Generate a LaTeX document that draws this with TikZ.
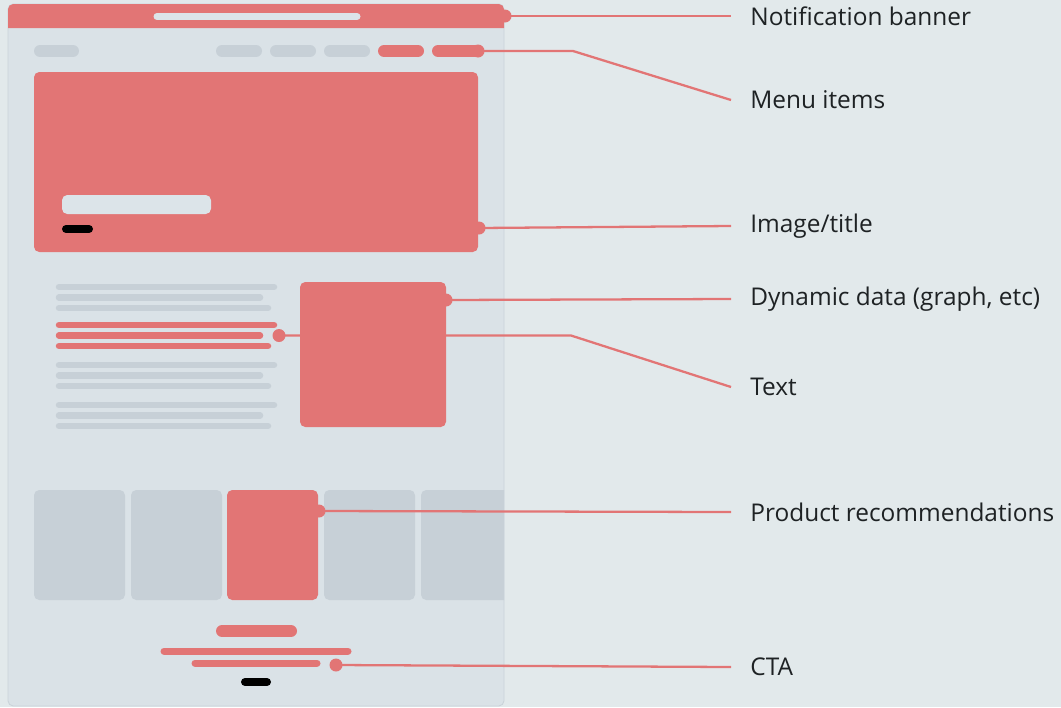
\documentclass[tikz,border=0pt]{standalone}
\usepackage{fontspec}
\setmainfont{Open Sans}
\definecolor{backdrop}{HTML}{E2E9EB}
\definecolor{pagefill}{HTML}{DAE2E7}
\definecolor{pageedge}{HTML}{CAD3D9}
\definecolor{wfgray}{HTML}{C7D0D7}
\definecolor{wfred}{HTML}{E27575}
\definecolor{wfwhite}{HTML}{DCE4E9}
\definecolor{labelink}{HTML}{1E2224}

\begin{document}
\begin{tikzpicture}[x=0.02cm,y=-0.02cm,
    pill/.style={line width=0.24cm,line cap=round},
    textline/.style={line width=0.13cm,line cap=round,wfgray},
    card/.style={rounded corners=3pt},
    dot/.style={circle,fill=wfred,inner sep=0pt,minimum size=0.26cm},
    callout/.style={draw=wfred,line width=1.3pt},
    label/.style={anchor=west,inner xsep=0.38cm,inner ysep=0pt,text=labelink,
        font={\fontsize{13.9pt}{16pt}\selectfont}}]
\fill[backdrop](0,0) rectangle (1061,707);
\useasboundingbox (0,0) rectangle (1061,707);

% page
\filldraw[fill=pagefill,draw=pageedge,line width=0.5pt,rounded corners=3pt](8,4) rectangle (504,706);
\fill[wfred](8,28) [rounded corners=3pt]-- (8,4) -- (504,4) [sharp corners]-- (504,28) -- cycle;
\draw[line width=0.14cm,line cap=round,wfwhite](157,16.5)--(357,16.5);

% menu
\draw[pill,wfgray](40,51)--(73,51);
\draw[pill,wfgray](222,51)--(256,51);
\draw[pill,wfgray](276,51)--(310,51);
\draw[pill,wfgray](330,51)--(364,51);
\draw[pill,wfred](384,51)--(418,51);
\draw[pill,wfred](438,51)--(476,51);

% hero
\fill[wfred,card](34,72) rectangle (478,252);
\fill[wfwhite,rounded corners=3pt](62,195) rectangle (211,214);
\draw[line width=0.16cm,line cap=round,black](66,229)--(89,229);

% text column
\draw[textline](59,287)--(274,287);
\draw[textline](59,297.5)--(260,297.5);
\draw[textline](59,308)--(268,308);
\draw[textline,wfred](59,325)--(274,325);
\draw[textline,wfred](59,335.5)--(260,335.5);
\draw[textline,wfred](59,346)--(268,346);
\draw[textline](59,365)--(274,365);
\draw[textline](59,375.5)--(260,375.5);
\draw[textline](59,386)--(268,386);
\draw[textline](59,405)--(274,405);
\draw[textline](59,415.5)--(260,415.5);
\draw[textline](59,426)--(268,426);

% product cards
\fill[wfgray,card](34,490) rectangle (125,600);
\fill[wfgray,card](131,490) rectangle (222,600);
\fill[wfgray,card](324,490) rectangle (415,600);
\fill[wfgray](421,490) [rounded corners=3pt]-- (421,600) [sharp corners]-- (504,600) -- (504,490) [rounded corners=3pt]-- cycle;

% CTA
\draw[pill,wfred](222,631)--(291,631);
\draw[line width=0.14cm,line cap=round,wfred](164,651)--(348,651);
\draw[line width=0.14cm,line cap=round,wfred](195,663)--(317,663);
\draw[line width=0.16cm,line cap=round,black](245,682)--(267,682);

% labels
\node[label](banner) at (731,16){Notification banner};
\node[label](menu) at (731,100){Menu items};
\node[label](hero) at (731,226){Image/title};
\node[label](dyndata) at (731,299){Dynamic data (graph, etc)};
\node[label](bodytext) at (731,387){Text};
\node[label](products) at (731,512){Product recommendations};
\node[label](cta) at (731,667){CTA};

\coordinate (menubend) at (573,51);
\coordinate (textbend) at (571,335.5);

\node[dot](dbanner) at (505,16){};
\node[dot](dmenu) at (478,51){};
\node[dot](dhero) at (479,228){};
\node[dot](ddyn) at (446,300){};
\node[dot](dtext) at (279,335.5){};
\node[dot](dprod) at (319,511){};
\node[dot](dcta) at (336,665){};

\draw[callout](dbanner.center)--(banner.west);
\draw[callout](dmenu.center)--(menubend)--(menu.west);
\draw[callout](dhero.center)--(hero.west);
\draw[callout](ddyn.center)--(dyndata.west);
\draw[callout](dtext.center)--(textbend)--(bodytext.west);
\draw[callout](dprod.center)--(products.west);
\draw[callout](dcta.center)--(cta.west);

% red boxes over the lines
\fill[wfred,card](300,282) rectangle (446,427);
\fill[wfred,card](227,490) rectangle (318,600);

\end{tikzpicture}
\end{document}
